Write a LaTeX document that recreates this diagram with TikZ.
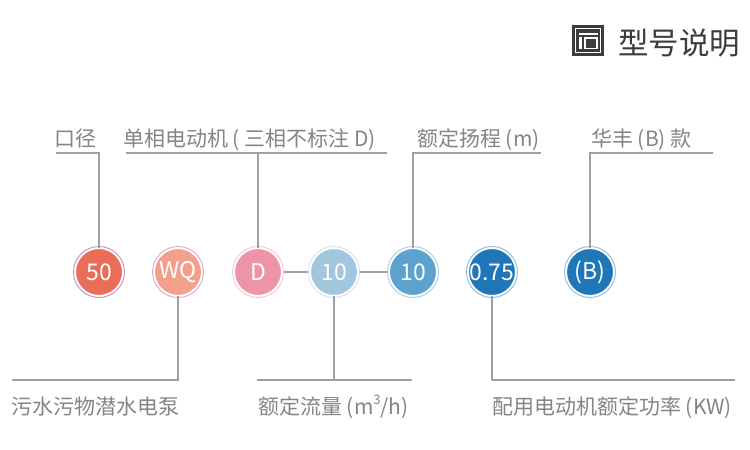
\documentclass[tikz,border=0pt]{standalone}
\usepackage{fontspec}
\setmainfont{Noto Sans CJK SC}
\newfontfamily\cjk{Noto Sans CJK SC}
\definecolor{lbl}{HTML}{858585}
\definecolor{ln}{HTML}{A0A0A0}
\definecolor{ttl}{HTML}{3C3C3C}
\definecolor{fA}{HTML}{EA6D57}
\definecolor{fB}{HTML}{F2A08C}
\definecolor{fC}{HTML}{EE94A8}
\definecolor{fD}{HTML}{A2C7DC}
\definecolor{fE}{HTML}{5CA2CE}
\definecolor{fF}{HTML}{1F77B7}
\definecolor{rA}{HTML}{C98BC9}
\definecolor{rB}{HTML}{E0A6CF}
\definecolor{rC}{HTML}{F4C6D2}
\definecolor{rD}{HTML}{CFE3EE}
\definecolor{rE}{HTML}{A9CDE6}
\definecolor{rF}{HTML}{8CBCE0}
\tikzset{
  bub/.style={circle, fill=#1, draw=white, line width=2pt, minimum size=48pt,
    inner sep=0pt, text=white, font=\cjk\fontsize{23}{23}\selectfont},
  ringline/.style={draw=#1, line width=0.9pt},
  lead/.style={draw=ln, line width=1.2pt},
  lbltext/.style={anchor=base west, inner sep=0pt, text=lbl,
    font=\cjk\fontsize{21}{22}\selectfont},
}
\begin{document}
\begin{tikzpicture}[x=1pt,y=-1pt]
\fill[white] (0,0) rectangle (750,450);
\useasboundingbox (0,0) rectangle (750,450);
% title
\node[anchor=base west, inner sep=0pt, text=ttl, font=\cjk\fontsize{30.5}{32}\selectfont] (title) at (618,54) {型号说明};
\node[fill=ttl, minimum width=32pt, minimum height=31pt, inner sep=0pt, anchor=north west] (icon) at (572,25) {};
\draw[white, line width=1.3pt] (575.5,28.5) rectangle (600.5,52.5);
\draw[white, line width=1.3pt] (578.5,34) -- (597.5,34);
\fill[white] (579,37) rectangle (582,49);
\draw[white, line width=1.3pt] (585,38) rectangle (597,48.5);
% bubbles
\node[bub=fA] (c1) at (99,272) {50};
\node[bub=fB] (c2) at (178,272) {WQ};
\node[bub=fC] (c3) at (258,272) {D};
\node[bub=fD] (c4) at (334,272) {10};
\node[bub=fE] (c5) at (413,272) {10};
\node[bub=fF] (c6) at (492,272) {0.75};
\node[bub=fF] (c7) at (590,272) {(B)};
\draw[ringline=rA] (c1) circle[radius=25.5];
\draw[ringline=rB] (c2) circle[radius=25.5];
\draw[ringline=rC] (c3) circle[radius=25.5];
\draw[ringline=rD] (c4) circle[radius=25.5];
\draw[ringline=rE] (c5) circle[radius=25.5];
\draw[ringline=rF] (c6) circle[radius=25.5];
\draw[ringline=rF] (c7) circle[radius=25.5];
\draw[lead] (c3.east) ++(1,0) -- ([xshift=-1pt]c4.west);
\draw[lead] (c4.east) ++(1,0) -- ([xshift=-1pt]c5.west);
% top labels
\node[lbltext] (t1) at (54,146) {口径};
\node[lbltext] (t2) at (123,146) {单相电动机 ( 三相不标注 D)};
\node[lbltext] (t3) at (417,146) {额定扬程 (m)};
\node[lbltext] (t4) at (591,146) {华丰 (B) 款};
\coordinate (h1) at (56,153);
\coordinate (h2a) at (126,153);
\coordinate (h2b) at (387,153);
\coordinate (h3b) at (541,153);
\coordinate (h4b) at (713,153);
\draw[lead] (h1) -| ([yshift=-1pt]c1.north);
\draw[lead] (h2a) -- (h2b);
\draw[lead] (c3.north |- h2a) -- ([yshift=-1pt]c3.north);
\draw[lead] (h3b) -| ([yshift=-1pt]c5.north);
\draw[lead] (h4b) -| ([yshift=-1pt]c7.north);
% bottom labels
\node[lbltext] (b1) at (11,414) {污水污物潜水电泵};
\node[lbltext] (b2) at (258,414) {额定流量 (m\raisebox{0.45em}{\fontsize{13}{13}\selectfont 3}/h)};
\node[lbltext] (b3) at (492,414) {配用电动机额定功率 (KW)};
\coordinate (g1) at (12,380);
\coordinate (g2a) at (257,380);
\coordinate (g2b) at (412,380);
\coordinate (g3b) at (735,380);
\draw[lead] (g1) -| ([yshift=1pt]c2.south);
\draw[lead] (g2a) -- (g2b);
\draw[lead] (c4.south |- g2a) -- ([yshift=1pt]c4.south);
\draw[lead] (g3b) -| ([yshift=1pt]c6.south);
\end{tikzpicture}
\end{document}
